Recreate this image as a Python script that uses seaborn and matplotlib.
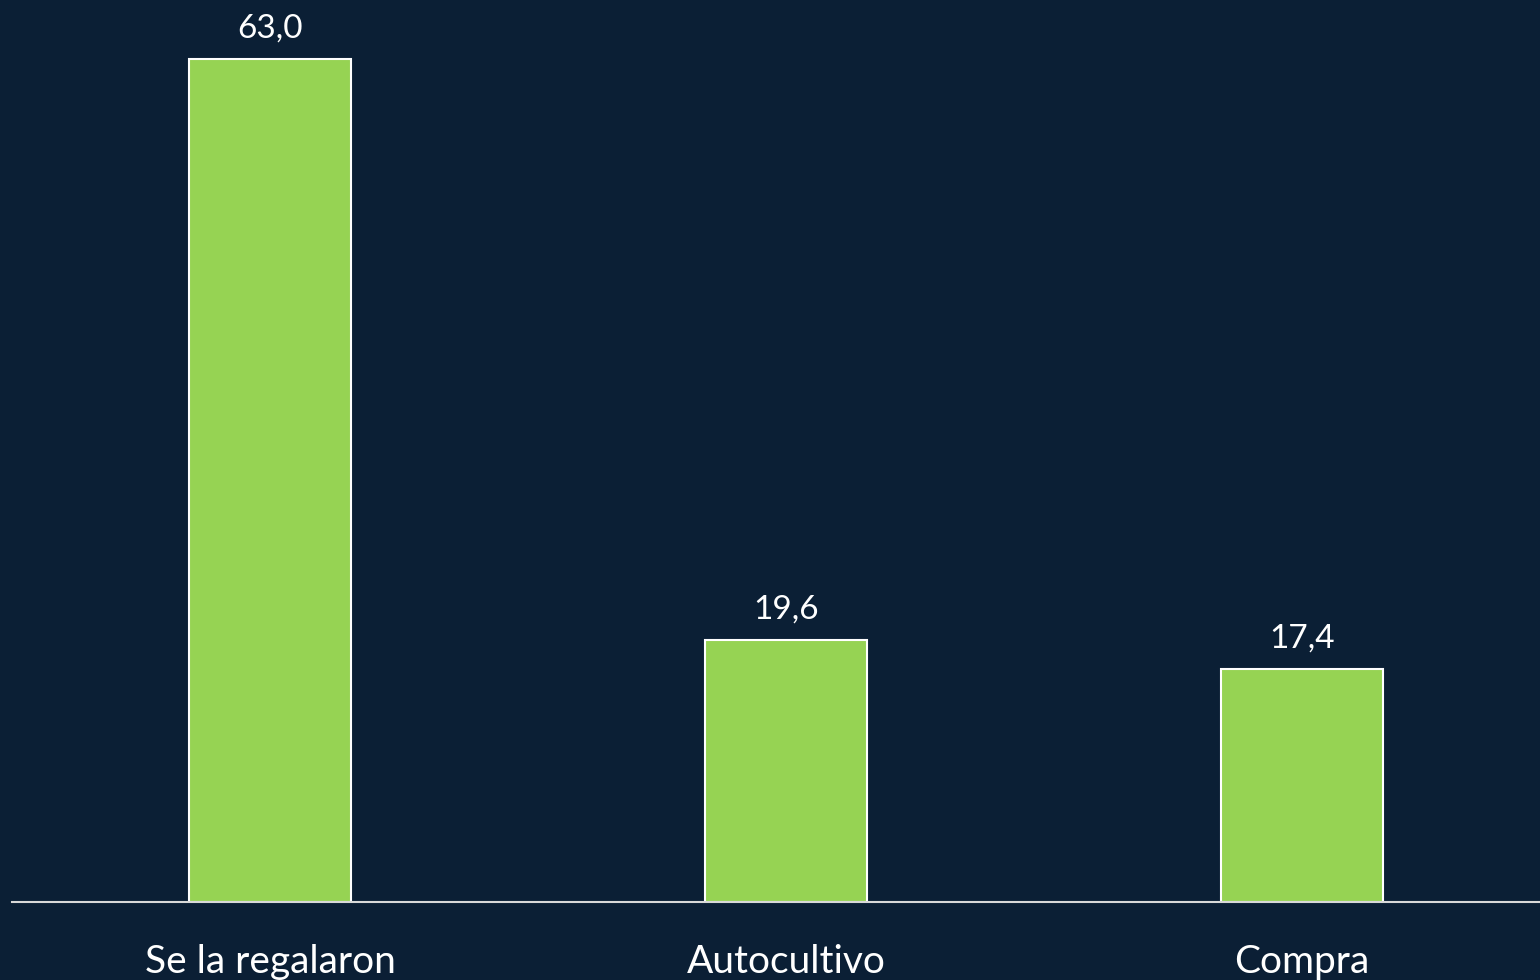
import matplotlib
matplotlib.use("Agg")
import matplotlib.pyplot as plt
import seaborn as sns
import pandas as pd

categories = ["Se la regalaron", "Autocultivo", "Compra"]
values = [63.0, 19.6, 17.4]
value_labels = ["63,0", "19,6", "17,4"]

BG = "#0B1F35"
GREEN = "#96D353"

sns.set_theme(style="white")
plt.rcParams['font.family'] = ['Lato', 'DejaVu Sans']

df = pd.DataFrame({"cat": categories, "val": values})

fig = plt.figure(figsize=(15.4, 9.8), dpi=100, facecolor=BG)
ax = fig.add_axes([12/1540, 78/980, 1 - 12/1540, 902/980])
ax.set_facecolor(BG)

sns.barplot(data=df, x="cat", y="val", color=GREEN, width=0.314,
            edgecolor="white", linewidth=1.5, saturation=1, ax=ax)

ax.set_xlim(-0.5, (1540 - 271) / 515.5)
ax.set_ylim(0, 902 / (843 / 63.0))

for i, (v, lab) in enumerate(zip(values, value_labels)):
    ax.annotate(lab, (i, v), xytext=(0, 11), textcoords="offset points",
                ha="center", va="bottom", color="white", fontsize=24)

for s in ["top", "right", "left"]:
    ax.spines[s].set_visible(False)
ax.spines["bottom"].set_color("#D9D9D9")
ax.spines["bottom"].set_linewidth(1.5)
ax.set_yticks([])
ax.set_xlabel("")
ax.set_ylabel("")
ax.tick_params(axis="x", length=0, pad=30, labelsize=28, labelcolor="white")

fig.savefig("out.png", dpi=100, facecolor=BG)
